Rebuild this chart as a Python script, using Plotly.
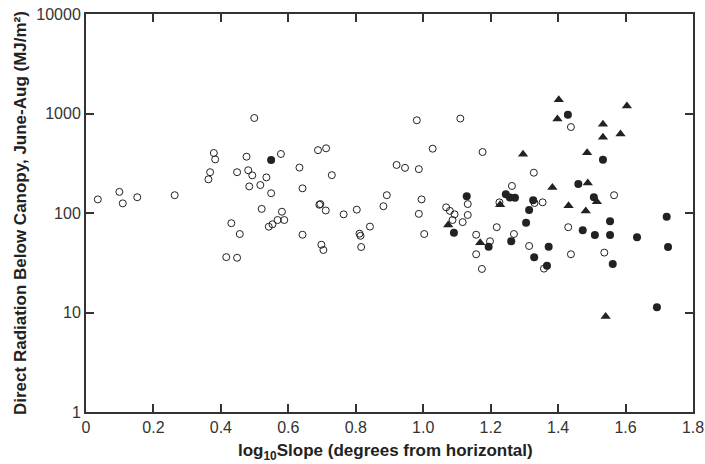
import plotly.graph_objects as go

# open circles
open_x = [0.035, 0.099, 0.109, 0.152, 0.263, 0.363, 0.368, 0.379, 0.383, 0.416,
          0.431, 0.448, 0.448, 0.456, 0.476, 0.481, 0.484, 0.493, 0.499, 0.517,
          0.521, 0.535, 0.542, 0.549, 0.553, 0.568, 0.578, 0.581, 0.588, 0.633,
          0.642, 0.642, 0.688, 0.692, 0.695, 0.698, 0.704, 0.711, 0.712, 0.729,
          0.764, 0.803, 0.811, 0.814, 0.816, 0.842, 0.882, 0.892, 0.921, 0.946,
          0.981, 0.987, 0.987, 0.995, 1.003, 1.028, 1.068, 1.079, 1.087, 1.093,
          1.110, 1.117, 1.132, 1.132, 1.157, 1.157, 1.174, 1.176, 1.198, 1.218,
          1.226, 1.263, 1.269, 1.314, 1.328, 1.330, 1.354, 1.358, 1.430, 1.438,
          1.438, 1.537, 1.566]
open_y = [137, 163, 125, 144, 151, 218, 257, 401, 346, 36,
          79, 257, 35.5, 61.5, 368, 269, 185, 239, 901, 191,
          110, 228, 72.8, 158, 77, 85, 392, 103, 85, 286,
          177, 60.5, 428, 121, 123, 48, 42.5, 106, 447, 240,
          97, 108, 62, 59, 45.5, 73, 117, 151, 304, 284,
          855, 276, 98, 137, 61.5, 443, 114, 105, 85, 97,
          890, 81, 123, 95.5, 60.5, 38.5, 27.4, 410, 52, 72,
          128, 187, 61.5, 46.6, 254, 126, 128, 27.6, 72, 38.5,
          731, 40, 151]

# filled circles
fill_x = [0.549, 1.091, 1.129, 1.194, 1.245, 1.257, 1.261, 1.272, 1.305, 1.314,
          1.326, 1.329, 1.367, 1.372, 1.429, 1.460, 1.473, 1.506, 1.509, 1.533,
          1.554, 1.554, 1.562, 1.634, 1.693, 1.722, 1.726]
fill_y = [341, 63.4, 147, 45.8, 154, 143, 52, 142, 80, 107,
          134, 35.9, 29.5, 45.8, 973, 196, 67, 144, 60, 343,
          82.6, 60, 30.7, 57, 11.3, 91.8, 45.5]

# filled triangles
tri_x = [1.074, 1.169, 1.228, 1.296, 1.383, 1.398, 1.402, 1.431, 1.482, 1.486,
         1.488, 1.515, 1.533, 1.533, 1.541, 1.585, 1.604]
tri_y = [75.7, 50.3, 121, 389, 180, 881, 1377, 118, 105, 404,
         200, 130, 779, 576, 9.1, 622, 1189]

x_ticks = [0, 0.2, 0.4, 0.6, 0.8, 1.0, 1.2, 1.4, 1.6, 1.8]
x_labels = ["0", "0.2", "0.4", "0.6", "0.8", "1.0", "1.2", "1.4", "1.6", "1.8"]
y_ticks = [1, 10, 100, 1000, 10000]
y_labels = ["1", "10", "100", "1000", "10000"]

x_title = "<b>log<sub>10</sub>Slope (degrees from horizontal)</b>"
y_title = "<b>Direct Radiation Below Canopy, June-Aug (MJ/m²)</b>"

ink = "#222222"
font_name = "Liberation Sans, Arial"

fig = go.Figure()
fig.add_trace(go.Scatter(x=open_x, y=open_y, mode="markers",
                         marker=dict(symbol="circle-open", size=7, color=ink,
                                     line=dict(width=1, color=ink))))
fig.add_trace(go.Scatter(x=fill_x, y=fill_y, mode="markers",
                         marker=dict(symbol="circle", size=8, color=ink)))
fig.add_trace(go.Scatter(x=tri_x, y=tri_y, mode="markers",
                         marker=dict(symbol="triangle-up", size=9, color=ink)))

axis_common = dict(showline=True, linewidth=2, linecolor="#333333", mirror="ticks",
                   ticks="inside", ticklen=8, tickwidth=1.5, tickcolor="#333333",
                   showgrid=False, zeroline=False, automargin=False,
                   ticklabeloverflow="allow",
                   tickfont=dict(family=font_name, size=16, color="#333333"))

fig.update_layout(
    width=705, height=464,
    margin=dict(l=86, r=12, t=14, b=52),
    paper_bgcolor="white", plot_bgcolor="white",
    showlegend=False,
    xaxis=dict(range=[0, 1.8], tickvals=x_ticks, ticktext=x_labels, **axis_common),
    yaxis=dict(type="log", range=[0, 4], tickvals=y_ticks, ticktext=y_labels, **axis_common),
    annotations=[
        dict(text=x_title, xref="paper", yref="paper", x=0.5, y=0,
             xshift=-4, yshift=-40, xanchor="center", yanchor="middle", showarrow=False,
             font=dict(family=font_name, size=17, color=ink)),
        dict(text=y_title, xref="paper", yref="paper", x=0, y=0.5,
             xshift=-66, xanchor="center", yanchor="middle", textangle=-90, showarrow=False,
             font=dict(family=font_name, size=17, color=ink)),
    ],
)
# drop the default page margin so the figure sits at the window's top-left corner
fig.write_html("out.html", config={"displayModeBar": False},
               post_script="document.body.style.margin='0';document.body.style.overflow='hidden';")
